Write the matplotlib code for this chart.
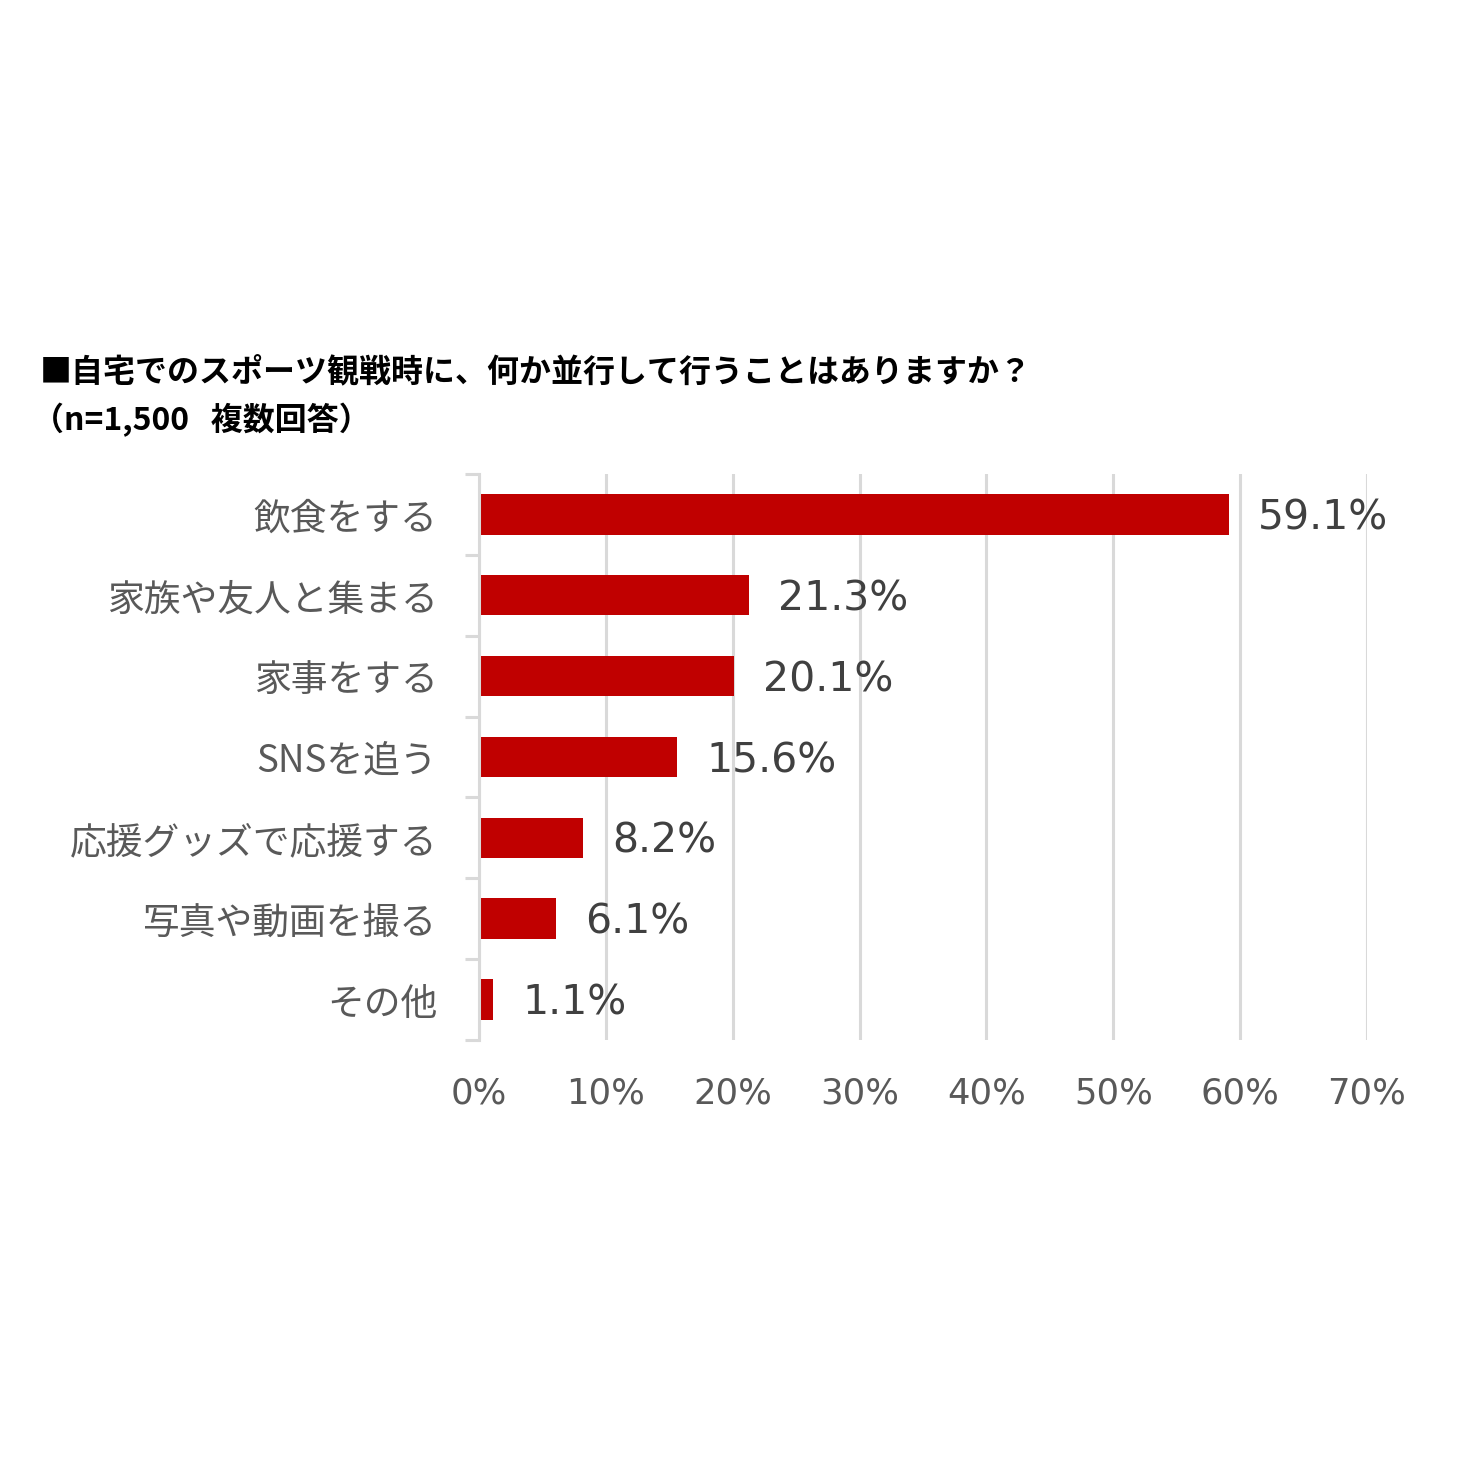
import matplotlib
matplotlib.use('Agg')
import matplotlib.pyplot as plt
from matplotlib.font_manager import FontProperties
from matplotlib.ticker import FixedLocator, FuncFormatter

plt.rcParams['font.family'] = ['Noto Sans CJK JP', 'DejaVu Sans']

categories = ['飲食をする', '家族や友人と集まる', '家事をする', 'SNSを追う',
              '応援グッズで応援する', '写真や動画を撮る', 'その他']
values = [59.1, 21.3, 20.1, 15.6, 8.2, 6.1, 1.1]
xticks = [0, 10, 20, 30, 40, 50, 60, 70]

bar_color = '#C00000'
grid_color = '#D9D9D9'
num_font = FontProperties(family='DejaVu Sans', size=29.5)
tick_font = FontProperties(family='DejaVu Sans', size=25.5)

fig = plt.figure(figsize=(14.6, 14.6), dpi=100)
ax = fig.add_axes([479 / 1460, 1 - 1040 / 1460, (1367 - 479) / 1460, (1040 - 474) / 1460])

ypos = list(range(len(categories)))
ax.barh(ypos, values, height=0.5, color=bar_color, zorder=3)
ax.set_ylim(len(categories) - 0.5, -0.5)
ax.set_xlim(0, 70)

for y, v in zip(ypos, values):
    ax.text(v + 2.3, y + 0.05, f'{v:.1f}%', va='center', ha='left',
            fontproperties=num_font, color='#404040')

# gridlines
ax.set_xticks(xticks)
ax.xaxis.set_major_formatter(FuncFormatter(lambda x, p: f'{int(x)}%'))
ax.grid(axis='x', color=grid_color, linewidth=2.2, zorder=0)
ax.tick_params(axis='x', length=0, pad=26, labelcolor='#595959')
for lbl in ax.get_xticklabels():
    lbl.set_fontproperties(tick_font)

ax.set_yticks(ypos)
ax.set_yticklabels(categories)
ax.yaxis.set_minor_locator(FixedLocator([i - 0.5 for i in range(len(categories) + 1)]))
ax.tick_params(axis='y', which='major', length=0, pad=30, labelsize=26.5, labelcolor='#595959')
ax.tick_params(axis='y', which='minor', length=10, width=2.2, color=grid_color)

for side in ['top', 'right', 'bottom']:
    ax.spines[side].set_visible(False)
ax.spines['left'].set_color(grid_color)
ax.spines['left'].set_linewidth(2.2)
ax.spines['left'].set_zorder(4)

fig.text(40 / 1460, 1 - 373 / 1460, '■自宅でのスポーツ観戦時に、何か並行して行うことはありますか？',
         fontsize=23, fontweight='bold', va='center', ha='left', color='black')
fig.text(32 / 1460, 1 - 420 / 1460, '（n=1,500   複数回答）',
         fontsize=23, fontweight='bold', va='center', ha='left', color='black')

fig.savefig('out.png', dpi=100, facecolor='white')
